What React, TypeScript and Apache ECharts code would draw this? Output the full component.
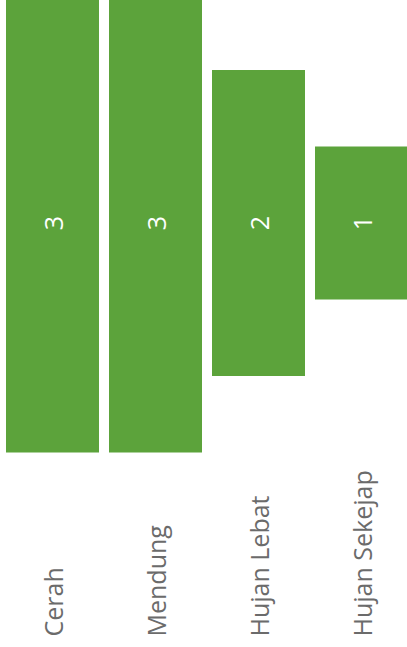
import React, { useEffect, useRef } from "react";
import * as echarts from "echarts";

const categories = ["Cerah", "Mendung", "Hujan Lebat", "Hujan Sekejap"];
const counts = [3, 3, 2, 1];
const maxCount = 3;

export default function App() {
  const ref = useRef<HTMLDivElement>(null);
  useEffect(() => {
    if (!ref.current) return;
    const chart = echarts.init(ref.current, null, { renderer: "svg" });
    const offsets = counts.map((v) => (maxCount - v) / 2);
    chart.setOption({
      animation: false,
      grid: { left: 1, width: 412, top: -6.5, bottom: 194.5, outerBoundsMode: "none", containLabel: false },
      xAxis: {
        type: "category",
        data: categories,
        axisLine: { show: false },
        axisTick: { show: false },
        axisLabel: {
          rotate: 90,
          align: "left",
          verticalAlign: "middle",
          margin: 184,
          padding: [0, 0, 4, 0],
          fontFamily: "Open Sans",
          fontSize: 25,
          color: "#6b6b6b",
          interval: 0,
        },
      },
      yAxis: {
        type: "value",
        min: 0,
        max: maxCount,
        show: false,
        splitLine: { show: false },
      },
      series: [
        {
          type: "bar",
          stack: "s",
          data: offsets,
          barWidth: 93,
          itemStyle: { color: "transparent" },
          silent: true,
        },
        {
          type: "bar",
          stack: "s",
          data: counts,
          barWidth: 93,
          itemStyle: { color: "#5ca33b" },
          label: {
            show: true,
            position: "inside",
            rotate: 90,
            fontFamily: "Open Sans",
            fontSize: 25,
            color: "#ffffff",
          },
        },
      ],
    });
    return () => chart.dispose();
  }, []);
  return (
    <div
      ref={ref}
      style={{ position: "fixed", left: 0, top: 0, width: 407, height: 647, background: "#fff" }}
    />
  );
}
